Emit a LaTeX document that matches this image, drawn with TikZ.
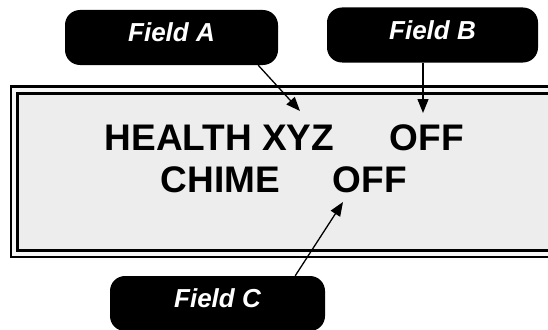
\documentclass[tikz,border=0pt]{standalone}
\usepackage{fontspec}
\setmainfont{Liberation Sans}
\usetikzlibrary{arrows.meta,positioning,calc}

\begin{document}
\begin{tikzpicture}[
  x=1pt, y=-1pt, >={Triangle[length=14pt,width=11pt]},
  callout/.style={fill=black, rounded corners=15pt, text=white, minimum width=213pt,
        minimum height=55pt, text depth=10pt, inner sep=0pt,
        font=\fontsize{26}{30}\selectfont\bfseries\itshape},
  lcd/.style={anchor=base west, inner sep=0pt, font=\fontsize{37}{41}\selectfont\bfseries},
  pointer/.style={->, line width=1.3pt}
]
  \useasboundingbox (0,0) rectangle (548,329);
  \clip (0,0) rectangle (548,329);
  % display frame
  \draw[line width=2.5pt, fill=gray!6] (11,86.5) rectangle (600,257);
  \draw[line width=3pt, fill=gray!14] (17.5,93.5) rectangle (600,250);
  % display text
  \node[lcd] (health) at (104.5,150) {HEALTH XYZ};
  \node[lcd] (offb) at (389.5,150) {OFF};
  \node[lcd] (chime) at (160.5,192) {CHIME};
  \node[lcd] (offc) at (332.5,192) {OFF};
  % callouts
  \node[callout] (fa) at (171.5,37.5) {Field A};
  \node[callout, minimum width=211pt] (fb) at (432.5,35) {Field B};
  \node[callout, minimum width=215pt] (fc) at (217.5,303.5) {Field C};
  \coordinate (tipa) at (300,111);
  \coordinate (tipb) at (423,113);
  \coordinate (tipc) at (343,202);
  \draw[pointer] ([xshift=-20pt]fa.south east) -- (tipa);
  \draw[pointer] ([xshift=-9.5pt]fb.south) -- (tipb);
  \draw[pointer] ([xshift=-30pt]fc.north east) -- (tipc);
\end{tikzpicture}
\end{document}
